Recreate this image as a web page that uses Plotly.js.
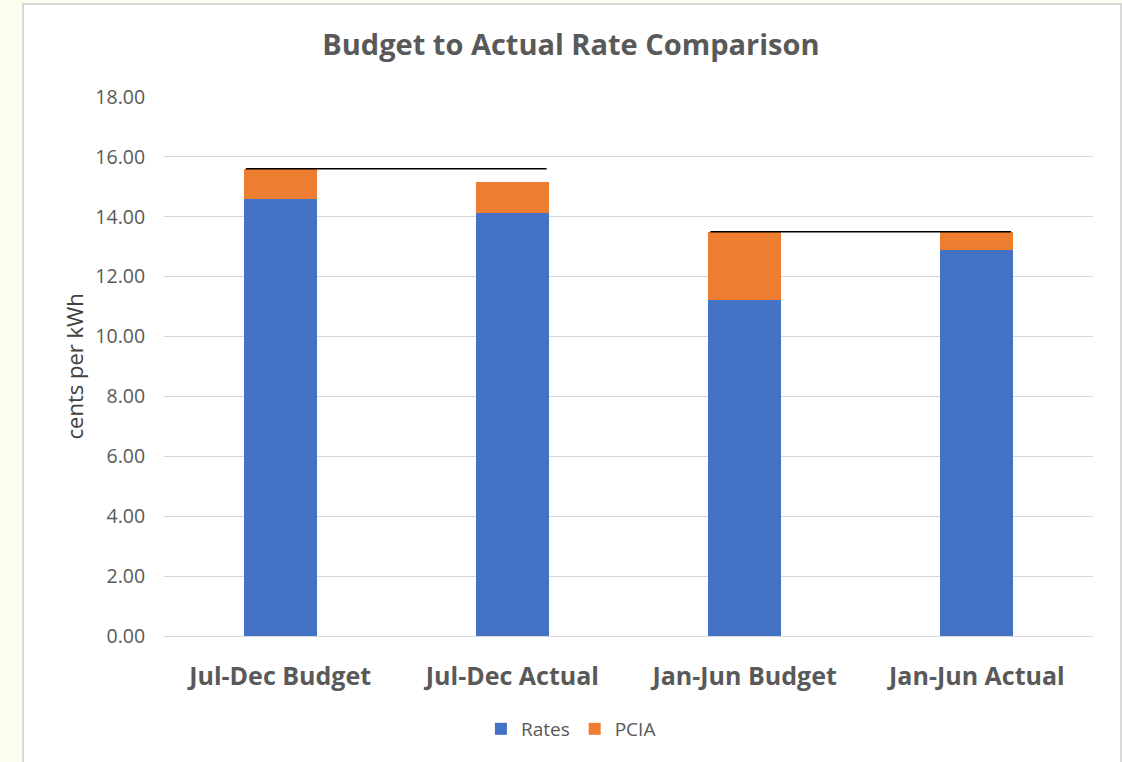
<!DOCTYPE html>
<html>
<head>
<meta charset="utf-8">
<script src="https://cdn.plot.ly/plotly-3.0.1.min.js"></script>
<style>
  html, body { margin: 0; padding: 0; width: 1122px; height: 762px; overflow: hidden; background: #fdfcf0; }
  #frame { position: absolute; left: 22px; top: 3px; width: 1096px; height: 770px; background: #ffffff;
           border: 2px solid #d9d9d9; }
  #chart { position: absolute; left: 0; top: 0; width: 1122px; height: 762px; }
</style>
</head>
<body>
<div id="frame"></div>
<div id="chart"></div>
<script>
const categories = ["Jul-Dec Budget", "Jul-Dec Actual", "Jan-Jun Budget", "Jan-Jun Actual"];
const rates = [14.60, 14.13, 11.22, 12.89];
const pcia  = [1.00, 1.04, 2.28, 0.61];
// reference lines: budget total carried across to the matching actual bar
const refPairs = [[0, 1], [2, 3]];

const idx = categories.map((_, i) => i);
const barWidth = 0.315;
const half = barWidth / 2 - 0.01;

const lineX = [], lineY = [];
refPairs.forEach(([a, b]) => {
  const total = rates[a] + pcia[a];
  lineX.push(a - half, b + half, null);
  lineY.push(total, total, null);
});

const font = "'Open Sans', sans-serif";

const traces = [
  { type: "bar", name: "Rates", x: idx, y: rates, width: barWidth,
    marker: { color: "#4472c4" }, hoverinfo: "y" },
  { type: "bar", name: "PCIA", x: idx, y: pcia, width: barWidth,
    marker: { color: "#ed7d31" }, hoverinfo: "y" },
  { type: "scatter", mode: "lines", x: lineX, y: lineY, showlegend: false,
    line: { color: "#000000", width: 1.5 }, hoverinfo: "skip" }
];

const layout = {
  width: 1122, height: 762,
  paper_bgcolor: "rgba(0,0,0,0)", plot_bgcolor: "rgba(0,0,0,0)",
  margin: { l: 164, r: 29, t: 97, b: 126 },
  barmode: "stack",
  font: { family: font, color: "#595959" },
  title: { text: "<b>Budget to Actual Rate Comparison</b>", x: 0.438, xref: "paper", xanchor: "center",
           y: 1 - 45 / 762, yref: "container", yanchor: "middle",
           font: { family: font, size: 29, color: "#595959" } },
  xaxis: { type: "linear", range: [-0.5, 3.5], tickvals: idx, ticktext: categories,
           showgrid: false, zeroline: false, showline: true, linecolor: "#d9d9d9", linewidth: 1,
           ticks: "outside", ticklen: 18, tickcolor: "rgba(0,0,0,0)",
           tickfont: { family: font, size: 25, color: "#595959", weight: "bold" }, fixedrange: true },
  yaxis: { range: [0, 18], dtick: 2, tick0: 0, tickformat: ".2f",
           showgrid: true, gridcolor: "#d9d9d9", gridwidth: 1, zeroline: false,
           ticks: "outside", ticklen: 14, tickcolor: "rgba(0,0,0,0)",
           tickfont: { family: font, size: 19.5, color: "#595959" }, fixedrange: true },
  annotations: [{ text: "cents per kWh", textangle: -90, xref: "paper", yref: "paper",
                  x: (73 - 164) / 929, y: 0.5, showarrow: false, xanchor: "center", yanchor: "middle",
                  font: { family: font, size: 22, color: "#404040" } }],
  legend: { orientation: "h", x: 0.438, xanchor: "center", y: -0.1725, yanchor: "middle",
            font: { family: font, size: 19, color: "#595959" }, traceorder: "normal" },
  showlegend: true
};

Plotly.newPlot("chart", traces, layout, { displayModeBar: false, staticPlot: true });
</script>
</body>
</html>
